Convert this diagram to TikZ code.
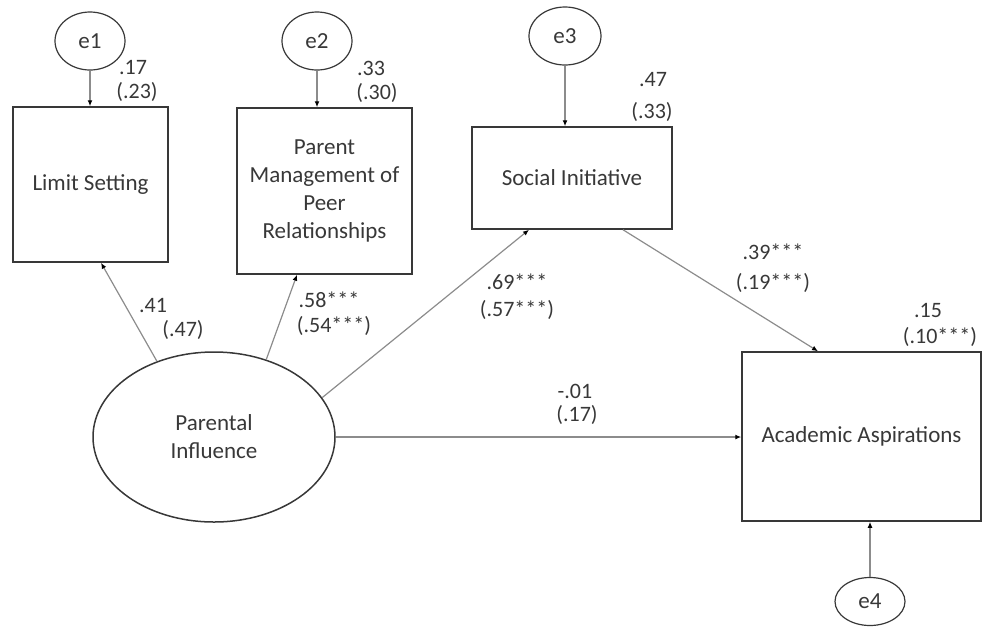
\documentclass[tikz,border=0pt]{standalone}
\usepackage{fontspec}
\setmainfont{Carlito}
\usetikzlibrary{shapes.geometric,arrows.meta,calc,positioning}
\definecolor{ink}{HTML}{383838}
\definecolor{wire}{HTML}{8C8C8C}

\begin{document}
\begin{tikzpicture}[x=1pt, y=-1pt, font=\fontsize{23}{28}\selectfont, text=ink]
   \useasboundingbox (0,0) rectangle (983,630);
   % observed and latent variables
   \begin{scope}[every node/.style={draw=ink, line width=1.5pt, inner sep=0pt, align=center}]
    \node (ls) [minimum width=155pt, minimum height=155pt] at (90.5,184.5) {Limit Setting};
    \node (pm) [minimum width=175pt, minimum height=166pt] at (324.5,191) {Parent\\Management of\\Peer\\Relationships};
    \node (si) [minimum width=200pt, minimum height=102pt] at (572,178) {Social Initiative};
    \node (aa) [minimum width=239pt, minimum height=169pt] at (861.5,436.5) {Academic Aspirations};
    \node (pi) [ellipse, minimum width=242pt, minimum height=170pt] at (214,437) {Parental\\Influence};
    \node (e1) [ellipse, line width=1.2pt, minimum width=70pt, minimum height=58pt] at (90,41) {e1};
    \node (e2) [ellipse, line width=1.2pt, minimum width=70pt, minimum height=58pt] at (317,41) {e2};
    \node (e3) [ellipse, line width=1.2pt, minimum width=72pt, minimum height=58pt] at (565,36) {e3};
    \node (e4) [ellipse, line width=1.2pt, minimum width=70pt, minimum height=48pt] at (870,601.5) {e4};
   \end{scope}
   % paths
   \begin{scope}[draw=wire, line width=1.2pt, -{Latex[length=6pt,width=5pt,color=black]}]
    \draw (e1.south) -- (e1.south |- ls.north);
    \draw (e2.south) -- (e2.south |- pm.north);
    \draw (e3.south) -- (e3.south |- si.north);
    \draw (e4.north) -- (e4.north |- aa.south);

    \draw (pi.127) -- ($(ls.south)+(10.5,0)$);
    \draw (pi.56) -- ($(pm.south)+(-27.5,0)$);
    \draw (pi.20) -- ($(si.south)+(-43,0)$);
    \draw (pi.east) -- (pi.east -| aa.west);
    \draw ($(si.south)+(51,0)$) -- ($(aa.north)+(-43.5,0)$);
   \end{scope}
   % estimates
   \begin{scope}[every node/.style={font=\fontsize{22}{26}\selectfont}]
    \node (r1a) at (133,68) {.17};
    \node (r1b) at (137,92) {(.23)};
    \node (r2a) at (371,68) {.33};
    \node (r2b) at (377,93) {(.30)};
    \node (r3a) at (653,80) {.47};
    \node (r3b) at (652,112) {(.33)};
    \node (r4a) at (928,310) {.15};
    \node (r4b) at (940,337) {(.10***)};

    \node (p1a) at (153,305) {.41};
    \node (p1b) at (183,330) {(.47)};
    \node (p2a) at (329,300) {.58***};
    \node (p2b) at (334,326) {(.54***)};
    \node (p3a) at (517,282) {.69***};
    \node (p3b) at (517,310) {(.57***)};
    \node (p4a) at (773,252) {.39***};
    \node (p4b) at (773,283) {(.19***)};
    \node (p5a) at (575,391) {-.01};
    \node (p5b) at (577,415) {(.17)};
   \end{scope}
\end{tikzpicture}
\end{document}
